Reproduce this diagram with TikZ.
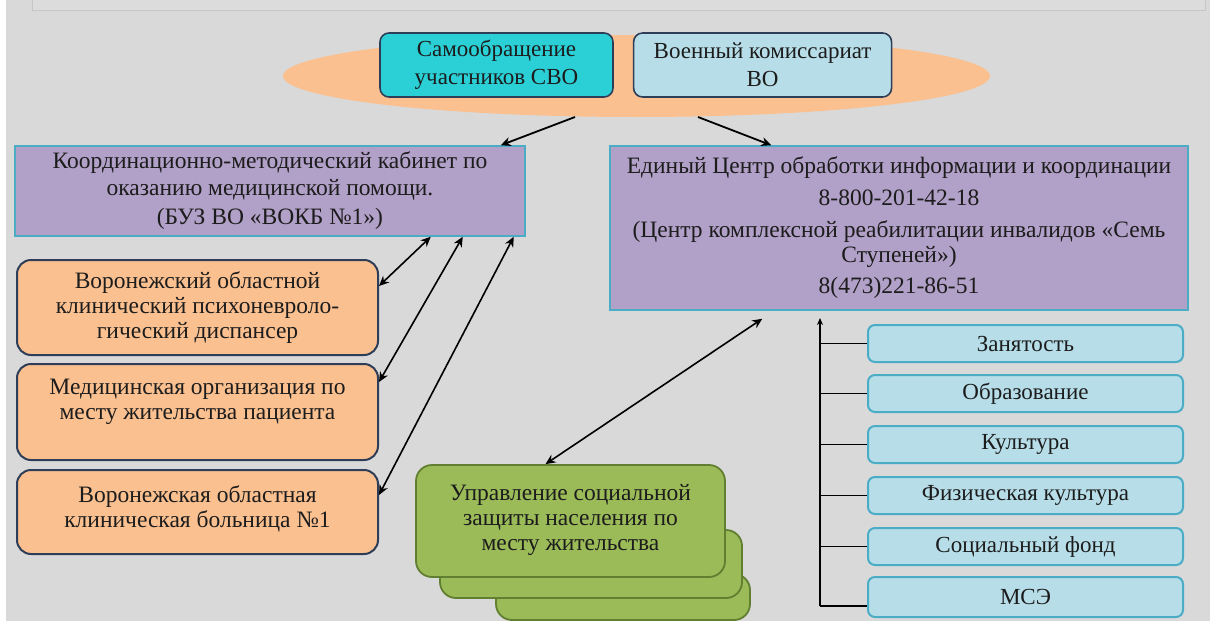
\documentclass[tikz,border=0pt]{standalone}
\usepackage{fontspec}
\setmainfont{Liberation Serif}
\usetikzlibrary{arrows.meta, positioning, shapes.geometric}
\usepackage{xcolor}
\definecolor{bggray}{HTML}{D9D9D9}
\definecolor{stripfill}{HTML}{DCDCDC}
\definecolor{stripline}{HTML}{C6C6C6}
\definecolor{peach}{HTML}{FAC090}
\definecolor{cyanbox}{HTML}{2BD0D6}
\definecolor{skyblue}{HTML}{B7DEE8}
\definecolor{lavender}{HTML}{B1A0C7}
\definecolor{tealline}{HTML}{4BACC6}
\definecolor{navyline}{HTML}{2F3E58}
\definecolor{leaf}{HTML}{9BBB59}
\definecolor{leafline}{HTML}{617F30}
\definecolor{inkblack}{HTML}{1C1C1C}

\begin{document}
\begin{tikzpicture}[
            x=1pt, y=1pt,
            source/.style={
                rectangle, 
                draw=navyline, 
                line width=1.6pt, 
                rounded corners=9pt, 
                minimum height=64pt, 
                text=inkblack, 
                align=center, 
                font=\fontsize{23}{28}\selectfont
            },
            centre/.style={
                rectangle, 
                draw=tealline, 
                line width=1.5pt, 
                fill=lavender, 
                text=inkblack, 
                align=center, 
                font=\fontsize{23.5}{27}\selectfont
            },
            clinic/.style={
                rectangle, 
                draw=navyline, 
                line width=2pt, 
                rounded corners=14pt, 
                fill=peach, 
                minimum width=361pt, 
                text=inkblack, 
                align=center, 
                font=\fontsize{23.5}{25}\selectfont
            },
            social/.style={
                rectangle, 
                draw=leafline, 
                line width=1.8pt, 
                rounded corners=16pt, 
                fill=leaf, 
                text=inkblack, 
                align=center, 
                font=\fontsize{23.5}{25}\selectfont
            },
            sphere/.style={
                rectangle, 
                draw=tealline, 
                line width=2pt, 
                rounded corners=7pt, 
                fill=skyblue, 
                minimum width=315pt, 
                minimum height=37pt, 
                text=inkblack, 
                font=\fontsize{23}{25}\selectfont
            },
            arrow/.style={
                ->, 
                line width=1.8pt, 
                >={Stealth[length=10pt, width=9pt]}
            },
            twoway/.style={
                <->, 
                line width=1.6pt, 
                >={Stealth[length=10pt, width=9pt]}
            },
            tick/.style={
                line width=1.5pt
            }
        ]
        
        % Page background
        \useasboundingbox (0,0) rectangle (1210,-621);
        \fill[bggray] (0,0) rectangle (1210,-621);
        \fill[white] (0,0) rectangle (6,-621);
        \draw[stripline, fill=stripfill, line width=1pt] (32,4) rectangle (1205,-10);
        
        % Sources of referral
        \node (oval) [ellipse, fill=peach, minimum width=707pt, minimum height=82pt, inner sep=0pt] at (636.5,-76) {};
        \node (self) [source, fill=cyanbox, minimum width=233pt] at (496.5,-65) {Самообращение\\участников СВО};
        \node (military) [source, fill=skyblue, minimum width=258pt, right=19pt of self] {Военный комиссариат\\ВО};
        \coordinate (oval-left) at (575,-117);
        \coordinate (oval-right) at (698,-117);
        
        % Two coordination centres
        \node (cabinet) [centre, minimum width=510pt, minimum height=90pt] at (270,-191) {Координационно-методический кабинет по\\оказанию медицинской помощи.\\[2pt](БУЗ ВО «ВОКБ №1»)\\[-22pt]~};
        \node (unified) [centre, minimum width=578pt, minimum height=164pt] at (899,-228) {Единый Центр обработки информации и координации\\[5pt]8-800-201-42-18\\[5pt](Центр комплексной реабилитации инвалидов «Семь\\[-2pt]Ступеней»)\\[4pt]8(473)221-86-51};
        
        % Arrows from sources
        \draw[arrow] (oval-left) -- ([xshift=-25pt]cabinet.north east);
        \draw[arrow] (oval-right) -- ([xshift=162pt]unified.north west);
        
        % Medical organisations
        \node (psych) [clinic, minimum height=95pt] at (197.5,-307.5) {Воронежский областной\\клинический психоневроло-\\гический диспансер};
        \node (local) [clinic, minimum height=96pt, below=7pt of psych] {Медицинская организация по\\месту жительства пациента\\~};
        \node (hospital) [clinic, minimum height=84pt, below=8pt of local] {Воронежская областная\\клиническая больница №1\\[-14pt]~};
        
        % Arrows between cabinet and organisations
        \draw[twoway] ([xshift=-95pt]cabinet.south east) -- ([yshift=-27pt]psych.north east);
        \draw[twoway] ([xshift=-63pt]cabinet.south east) -- ([yshift=-19pt]local.north east);
        \draw[twoway] ([xshift=-12pt]cabinet.south east) -- ([yshift=-26pt]hospital.north east);
        
        % Social protection (stacked)
        \node (welfare3) [social, minimum width=254pt, minimum height=46pt] at (623,-597) {};
        \node (welfare2) [social, minimum width=302pt, minimum height=68pt] at (591,-564) {};
        \node (welfare) [social, minimum width=309pt, minimum height=112pt] at (570.5,-521) {Управление социальной\\защиты населения по\\месту жительства\\[-17pt]~};
        \draw[twoway] ([xshift=-25pt]welfare.north) -- ([shift={(153pt,-8pt)}]unified.south west);
        
        % Spheres of rehabilitation
        \node (employment) [sphere] at (1025.5,-343.5) {Занятость};
        \node (education) [sphere, below=11pt of employment] {Образование};
        \node (culture) [sphere, below=12pt of education] {Культура};
        \node (sport) [sphere, below=12pt of culture] {Физическая культура};
        \node (fund) [sphere, below=12pt of sport] {Социальный фонд};
        \node (mse) [sphere, minimum height=40pt, below=10pt of fund] {МСЭ};
        
        % Spine to the centre
        \coordinate (spine-top) at (820,-318);
        \coordinate (spine-bottom) at (820,-606);
        \draw[arrow, line width=1.5pt, >={Stealth[length=7pt, width=6pt]}] (spine-bottom) -- (spine-top);
        \draw[tick] (employment.west) -- (employment.west -| spine-top);
        \draw[tick] (education.west) -- (education.west -| spine-top);
        \draw[tick] (culture.west) -- (culture.west -| spine-top);
        \draw[tick] (sport.west) -- (sport.west -| spine-top);
        \draw[tick] (fund.west) -- (fund.west -| spine-top);
        \draw[tick] (spine-bottom) -- (spine-bottom -| mse.west);
        
        \end{tikzpicture}
\end{document}
